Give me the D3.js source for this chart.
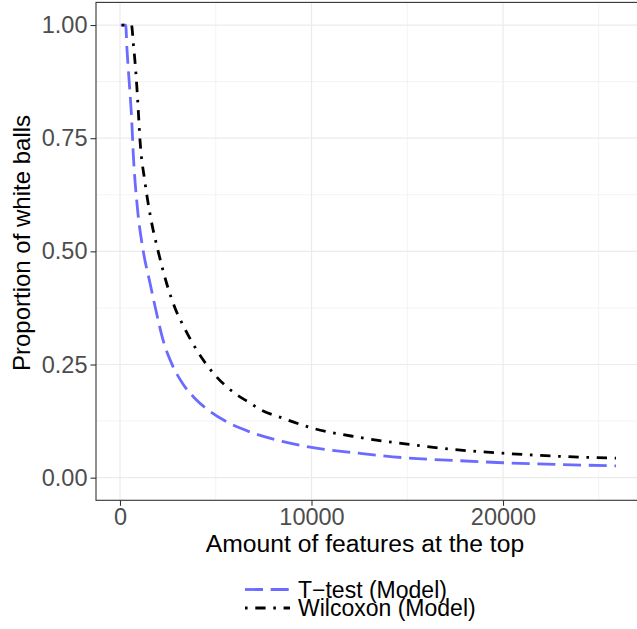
<!DOCTYPE html>
<html>
<head>
<meta charset="utf-8">
<script src="https://cdn.jsdelivr.net/npm/d3@7"></script>
<style>
  html, body { margin: 0; padding: 0; background: #fff; }
  svg { display: block; font-family: "Liberation Sans", Arial, Helvetica, sans-serif; }
</style>
</head>
<body>
<svg id="chart" width="637" height="629"></svg>
<script>
// ---- data ----
const seriesNames = ["T\u2212test (Model)", "Wilcoxon (Model)"];
const ttestX = [40, 300, 360, 480, 600, 700, 900, 1217, 1567, 1864, 2261, 2700, 3305, 3916, 4527, 5500, 6789, 8527, 10000, 12500, 15000, 17500, 20000, 23000, 25900];
const ttestY = [1, 1, 0.95, 0.875, 0.80, 0.71, 0.60, 0.50, 0.43, 0.372, 0.302, 0.252, 0.206, 0.175, 0.152, 0.125, 0.101, 0.0795, 0.067, 0.054, 0.0435, 0.038, 0.033, 0.029, 0.026];
const wilcoxX = [90, 600, 695, 820, 924, 1044, 1300, 1600, 2000, 2437, 2872, 3300, 4005, 4873, 6005, 6789, 7222, 8527, 10000, 12500, 15000, 17500, 20000, 23000, 25900];
const wilcoxY = [1, 1, 0.96, 0.90, 0.834, 0.746, 0.654, 0.575, 0.499, 0.429, 0.375, 0.336, 0.282, 0.231, 0.186, 0.165, 0.153, 0.131, 0.110, 0.089, 0.074, 0.062, 0.054, 0.047, 0.043];
const xTicks = [0, 10000, 20000];
const xMinor = [5000, 15000, 25000];
const yTicks = [0, 0.25, 0.5, 0.75, 1];
const yMinor = [0.125, 0.375, 0.625, 0.875];
const yTickLabels = ["0.00", "0.25", "0.50", "0.75", "1.00"];
const xTickLabels = ["0", "10000", "20000"];
const xTitle = "Amount of features at the top";
const yTitle = "Proportion of white balls";

// ---- layout ----
const svg = d3.select("#chart");
const panel = { left: 96, right: 640, top: 2.4, bottom: 500.3 };
const x = d3.scaleLinear().domain([-1253, 27154]).range([panel.left, panel.right]);
const y = d3.scaleLinear().domain([-0.05, 1.05]).range([panel.bottom, panel.top]);

const gridCol = "#EBEBEB";
const g = svg.append("g");

svg.append("defs").append("clipPath").attr("id", "clip")
  .append("rect").attr("x", panel.left).attr("y", panel.top)
  .attr("width", panel.right - panel.left).attr("height", panel.bottom - panel.top);

// minor grid
g.selectAll(".xminor").data(xMinor).join("line")
  .attr("x1", d => x(d)).attr("x2", d => x(d))
  .attr("y1", panel.top).attr("y2", panel.bottom)
  .attr("stroke", gridCol).attr("stroke-width", 0.6);
g.selectAll(".yminor").data(yMinor).join("line")
  .attr("x1", panel.left).attr("x2", panel.right)
  .attr("y1", d => y(d)).attr("y2", d => y(d))
  .attr("stroke", gridCol).attr("stroke-width", 0.6);
// major grid
g.selectAll(".xmajor").data(xTicks).join("line")
  .attr("x1", d => x(d)).attr("x2", d => x(d))
  .attr("y1", panel.top).attr("y2", panel.bottom)
  .attr("stroke", gridCol).attr("stroke-width", 1.2);
g.selectAll(".ymajor").data(yTicks).join("line")
  .attr("x1", panel.left).attr("x2", panel.right)
  .attr("y1", d => y(d)).attr("y2", d => y(d))
  .attr("stroke", gridCol).attr("stroke-width", 1.2);

// lines
const line = d3.line().x(d => x(d[0])).y(d => y(d[1])).curve(d3.curveMonotoneX);
const tData = ttestX.map((v, i) => [v, ttestY[i]]);
const wData = wilcoxX.map((v, i) => [v, wilcoxY[i]]);
const blue = "#6b6bff";
const dashBlue = "18 7.7";
const dashBlack = "2.6 7.7 10.3 7.7";
const lw = 2.8;

g.append("path").attr("clip-path", "url(#clip)").datum(tData).attr("d", line)
  .attr("fill", "none").attr("stroke", blue).attr("stroke-width", lw)
  .attr("stroke-dasharray", dashBlue);
g.append("path").attr("clip-path", "url(#clip)").datum(wData).attr("d", line)
  .attr("fill", "none").attr("stroke", "#000").attr("stroke-width", lw)
  .attr("stroke-dasharray", dashBlack);

// panel border
g.append("rect").attr("x", panel.left).attr("y", panel.top)
  .attr("width", panel.right - panel.left).attr("height", panel.bottom - panel.top)
  .attr("fill", "none").attr("stroke", "#333333").attr("stroke-width", 1.1);

// axes
const xAxis = d3.axisBottom(x).tickValues(xTicks).tickSize(5.5).tickPadding(3)
  .tickFormat((d, i) => xTickLabels[i]);
const gx = svg.append("g").attr("transform", `translate(0,${panel.bottom})`).call(xAxis);
gx.select(".domain").remove();
gx.selectAll(".tick line").attr("stroke", "#333333").attr("stroke-width", 1.1);
gx.selectAll(".tick text").attr("fill", "#4D4D4D").attr("font-size", 23.5)
  .attr("font-family", "Liberation Sans, Arial, sans-serif");

const yAxis = d3.axisLeft(y).tickValues(yTicks).tickSize(5.5).tickPadding(3)
  .tickFormat((d, i) => yTickLabels[i]);
const gy = svg.append("g").attr("transform", `translate(${panel.left},0)`).call(yAxis);
gy.select(".domain").remove();
gy.selectAll(".tick line").attr("stroke", "#333333").attr("stroke-width", 1.1);
gy.selectAll(".tick text").attr("fill", "#4D4D4D").attr("font-size", 23.5)
  .attr("font-family", "Liberation Sans, Arial, sans-serif");

// titles
svg.append("text").attr("x", 365).attr("y", 552).attr("text-anchor", "middle")
  .attr("font-size", 24.7).attr("fill", "#000").text(xTitle);
svg.append("text").attr("transform", "translate(30,243) rotate(-90)")
  .attr("text-anchor", "middle").attr("font-size", 24).attr("fill", "#000").text(yTitle);

// legend
const legY = [589.5, 608];
const legColors = [blue, "#000"];
const legDash = [dashBlue, dashBlack];
const leg = svg.append("g");
seriesNames.forEach((name, i) => {
  leg.append("line").attr("x1", 245).attr("x2", 290).attr("y1", legY[i]).attr("y2", legY[i])
    .attr("stroke", legColors[i]).attr("stroke-width", lw).attr("stroke-dasharray", legDash[i]);
  leg.append("text").attr("x", 298).attr("y", legY[i]).attr("dy", "0.35em")
    .attr("font-size", 23).attr("fill", "#000").text(name);
});
</script>
</body>
</html>
